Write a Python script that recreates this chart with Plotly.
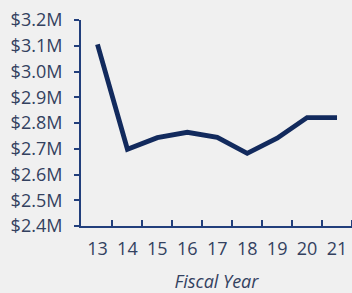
import plotly.graph_objects as go

years = ["13", "14", "15", "16", "17", "18", "19", "20", "21"]
values = [3.105, 2.698, 2.743, 2.764, 2.744, 2.682, 2.741, 2.821, 2.821]
y_ticks = [2.4, 2.5, 2.6, 2.7, 2.8, 2.9, 3.0, 3.1, 3.2]
y_labels = ["$2.4M", "$2.5M", "$2.6M", "$2.7M", "$2.8M", "$2.9M", "$3.0M", "$3.1M", "$3.2M"]

axis_col = "#223f7c"
text_col = "#33415f"
font = "Open Sans"

fig = go.Figure(go.Scatter(
    x=list(range(len(years))), y=values, mode="lines",
    line=dict(color="#122a5d", width=4.8), hoverinfo="skip",
))

fig.update_layout(
    width=352, height=293,
    margin=dict(l=81, r=0, t=20, b=67),
    paper_bgcolor="#f0f0f0", plot_bgcolor="#f0f0f0",
    showlegend=False,
    font=dict(family=font, size=18, color=text_col),
)
fig.update_xaxes(
    automargin=False,
    range=[-0.55, 8.5],
    tickmode="array", tickvals=list(range(len(years))), ticktext=years,
    showgrid=False, zeroline=False,
    showline=True, linecolor=axis_col, linewidth=2,
    ticks="", ticklabelstandoff=5,
    title=dict(text="<i>Fiscal Year</i>", font=dict(size=18, color=text_col), standoff=18),
)
fig.update_xaxes(
    minor=dict(tickmode="array", tickvals=[i + 0.5 for i in range(0, 9)],
               ticks="inside", ticklen=6, tickcolor=axis_col, tickwidth=2, showgrid=False),
)
fig.update_yaxes(
    automargin=False,
    range=[2.4, 3.2],
    tickmode="array", tickvals=y_ticks, ticktext=y_labels,
    showgrid=False, zeroline=False,
    showline=True, linecolor=axis_col, linewidth=2,
    ticks="outside", ticklen=5, tickcolor=axis_col, tickwidth=2,
    ticklabelstandoff=8,
)

fig.write_html(
    "out.html",
    config={"displayModeBar": False},
    post_script="document.body.style.margin='0';document.body.style.background='#f0f0f0';",
)
